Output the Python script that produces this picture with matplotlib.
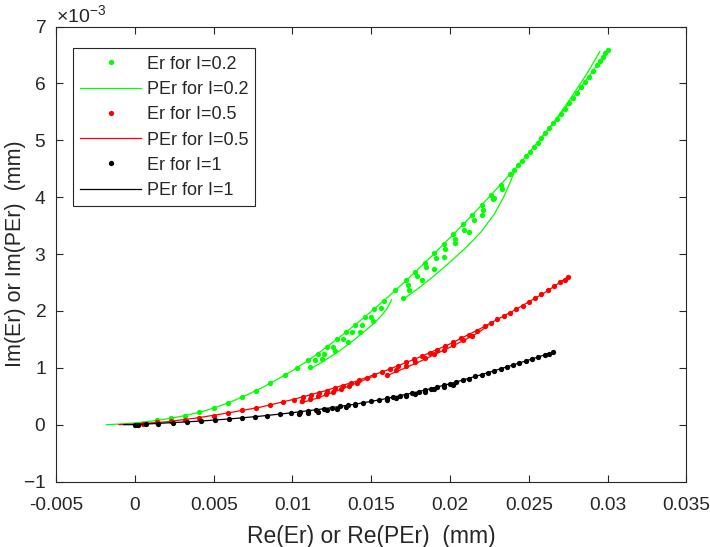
import matplotlib

matplotlib.use("Agg")
import matplotlib.pyplot as plt
from matplotlib.ticker import FuncFormatter, MultipleLocator, ScalarFormatter
import numpy as np

# --- data (x in mm, y in 1e-3 mm) -------------------------------------------
# I = 0.2 (green)
g_dot_x = [0.0005, 0.0014, 0.0023, 0.0032, 0.0041, 0.0050, 0.0059, 0.0068, 0.0077, 0.0086,
           0.0095, 0.0103, 0.0110, 0.0116, 0.0122, 0.0128, 0.0134, 0.0140, 0.0146, 0.0152,
           0.0158, 0.0165, 0.0172, 0.0178, 0.0184, 0.0190, 0.0196, 0.0202, 0.0208, 0.0214,
           0.0220, 0.0226, 0.0232, 0.0238, 0.0243, 0.0248, 0.0253, 0.0258, 0.0263, 0.0268,
           0.0273, 0.0278, 0.0283, 0.0288, 0.0293, 0.0297, 0.0300]
g_dot_y = [0.02, 0.075, 0.115, 0.16, 0.215, 0.29, 0.38, 0.49, 0.60, 0.73,
           0.87, 1.00, 1.13, 1.25, 1.37, 1.50, 1.63, 1.76, 1.90, 2.04,
           2.18, 2.36, 2.54, 2.69, 2.85, 3.01, 3.18, 3.35, 3.52, 3.69,
           3.86, 4.04, 4.22, 4.40, 4.56, 4.72, 4.88, 5.04, 5.21, 5.38,
           5.55, 5.74, 5.93, 6.12, 6.32, 6.47, 6.59]
g_dot2_x = [0.0114, 0.0120, 0.0126, 0.0132, 0.0138, 0.0144, 0.0150, 0.0156,
            0.0173, 0.0179, 0.0185, 0.0191, 0.0197, 0.0203, 0.0209, 0.0215, 0.0221, 0.0227, 0.0233]
g_dot2_y = [1.13, 1.25, 1.37, 1.50, 1.63, 1.76, 1.90, 2.05,
            2.46, 2.61, 2.77, 2.93, 3.09, 3.26, 3.43, 3.60, 3.78, 3.96, 4.14]
g_dot3_x = [0.0111, 0.0119, 0.0127, 0.0135, 0.0143, 0.0151,
            0.0170, 0.0174, 0.0182, 0.0190, 0.0196, 0.0203, 0.0212, 0.0220, 0.0228]
g_dot3_y = [1.02, 1.15, 1.30, 1.46, 1.63, 1.82,
            2.22, 2.36, 2.54, 2.73, 2.94, 3.20, 3.39, 3.69, 3.98]
g_dot4_x = [0.02405, 0.02455, 0.02505, 0.02555, 0.02605, 0.02655, 0.02705,
            0.02755, 0.02805, 0.02855, 0.02905, 0.02950, 0.02985]
g_dot4_y = [4.48, 4.64, 4.80, 4.96, 5.12, 5.30, 5.46,
            5.65, 5.84, 6.02, 6.22, 6.40, 6.54]
g_line_x = [-0.0018, -0.001, 0.0, 0.001, 0.002, 0.003, 0.004, 0.005, 0.006, 0.007, 0.008,
            0.009, 0.010, 0.011, 0.012, 0.013, 0.014, 0.015, 0.016, 0.017, 0.018, 0.019,
            0.020, 0.021, 0.022, 0.023, 0.024, 0.025, 0.026, 0.027, 0.028, 0.029, 0.030]
g_line_y = [0.0, 0.01, 0.03, 0.06, 0.10, 0.15, 0.21, 0.29, 0.39, 0.51, 0.64,
            0.79, 0.95, 1.13, 1.33, 1.54, 1.76, 1.99, 2.23, 2.48, 2.74, 3.01,
            3.29, 3.57, 3.86, 4.16, 4.46, 4.78, 5.11, 5.45, 5.82, 6.20, 6.59]
g_lineA_x = [0.0112, 0.0120, 0.0130, 0.0140, 0.0150, 0.0156, 0.0160, 0.0163]
g_lineA_y = [0.99, 1.12, 1.30, 1.51, 1.74, 1.90, 2.04, 2.20]
g_lineB_x = [0.0170, 0.0180, 0.0190, 0.0200, 0.0210, 0.0220, 0.0228, 0.0234, 0.0238, 0.0241]
g_lineB_y = [2.20, 2.40, 2.62, 2.86, 3.11, 3.40, 3.70, 4.00, 4.25, 4.46]
g_lineC_x = [0.0258, 0.0268, 0.0278, 0.0287, 0.0295]
g_lineC_y = [5.05, 5.40, 5.80, 6.18, 6.56]

# I = 0.5 (red)
r_dot_x = [0.0005, 0.0014, 0.0023, 0.0032, 0.0041, 0.0050, 0.0059, 0.0068, 0.0077, 0.0086,
           0.0094, 0.0101, 0.0107, 0.0112, 0.0117, 0.0122, 0.0127, 0.0132, 0.0137, 0.0142,
           0.0147, 0.0152, 0.0157, 0.0162, 0.0167, 0.0172, 0.0177, 0.0182, 0.0187, 0.0192,
           0.0197, 0.0202, 0.0207, 0.0212, 0.0217, 0.0222, 0.0226, 0.0230, 0.0234, 0.0238,
           0.0242, 0.0246, 0.0250, 0.0254, 0.0258, 0.0262, 0.0266, 0.0270, 0.0273, 0.0275]
r_dot_y = [0.02, 0.04, 0.06, 0.09, 0.12, 0.16, 0.20, 0.25, 0.29, 0.34,
           0.40, 0.44, 0.48, 0.52, 0.55, 0.60, 0.64, 0.68, 0.73, 0.78,
           0.82, 0.87, 0.92, 0.98, 1.04, 1.10, 1.15, 1.20, 1.26, 1.32,
           1.38, 1.45, 1.52, 1.58, 1.65, 1.73, 1.79, 1.85, 1.91, 1.97,
           2.03, 2.09, 2.16, 2.22, 2.29, 2.36, 2.43, 2.50, 2.55, 2.60]
r_dot2_x = [0.0106, 0.0111, 0.0116, 0.0121, 0.0126, 0.0131, 0.0136, 0.0141,
            0.0160, 0.0166, 0.0172, 0.0178, 0.0184, 0.0190, 0.0196, 0.0202, 0.0208, 0.0214]
r_dot2_y = [0.41, 0.45, 0.50, 0.54, 0.58, 0.63, 0.68, 0.73,
            0.88, 0.96, 1.03, 1.10, 1.17, 1.25, 1.32, 1.40, 1.48, 1.56]
r_line_x = [-0.0010, 0.0, 0.002, 0.004, 0.006, 0.008, 0.010, 0.012, 0.014, 0.016,
            0.018, 0.020, 0.022, 0.024, 0.026, 0.0275]
r_line_y = [0.0, 0.01, 0.05, 0.12, 0.21, 0.31, 0.44, 0.59, 0.76, 0.96,
            1.18, 1.42, 1.70, 2.00, 2.32, 2.60]
r_lineA_x = [0.0105, 0.0115, 0.0125, 0.0135, 0.0145, 0.0153]
r_lineA_y = [0.38, 0.46, 0.56, 0.67, 0.78, 0.87]
r_lineB_x = [0.0159, 0.0170, 0.0180, 0.0190, 0.0200, 0.0210, 0.0218, 0.0224]
r_lineB_y = [0.85, 0.98, 1.10, 1.23, 1.36, 1.50, 1.62, 1.74]

# I = 1 (black)
k_dot_x = [0.0000, 0.0002, 0.0007, 0.0015, 0.0024, 0.0033, 0.0042, 0.0051, 0.0060, 0.0068,
           0.0076, 0.0084, 0.0092, 0.0099, 0.0105, 0.0110, 0.0115, 0.0120, 0.0125, 0.0130,
           0.0135, 0.0140, 0.0145, 0.0150, 0.0155, 0.0160, 0.0164, 0.0168, 0.0172, 0.0176,
           0.0180, 0.0184, 0.0188, 0.0192, 0.0196, 0.0200, 0.0204, 0.0208, 0.0212, 0.0216,
           0.0220, 0.0224, 0.0228, 0.0232, 0.0236, 0.0240, 0.0244, 0.0248, 0.0252, 0.0256,
           0.0260, 0.0263, 0.0265]
k_dot_y = [0.0, 0.0, 0.01, 0.02, 0.035, 0.05, 0.065, 0.08, 0.10, 0.12,
           0.14, 0.16, 0.18, 0.21, 0.22, 0.24, 0.26, 0.28, 0.30, 0.32,
           0.34, 0.36, 0.385, 0.41, 0.435, 0.46, 0.48, 0.51, 0.53, 0.555,
           0.58, 0.61, 0.635, 0.66, 0.69, 0.72, 0.75, 0.78, 0.81, 0.85,
           0.88, 0.91, 0.95, 0.98, 1.02, 1.05, 1.09, 1.12, 1.16, 1.19,
           1.23, 1.25, 1.27]
k_dot2_x = [0.0104, 0.0110, 0.0116, 0.0122, 0.0128, 0.0134, 0.0140,
            0.0160, 0.0166, 0.0172, 0.0178, 0.0184, 0.0190, 0.0196, 0.0202]
k_dot2_y = [0.19, 0.21, 0.23, 0.26, 0.28, 0.31, 0.34,
            0.43, 0.47, 0.51, 0.54, 0.58, 0.62, 0.66, 0.70]
k_line_x = [-0.0007, 0.0, 0.002, 0.004, 0.006, 0.008, 0.010, 0.012, 0.014, 0.016,
            0.018, 0.020, 0.022, 0.024, 0.0265]
k_line_y = [0.0, 0.0, 0.03, 0.06, 0.10, 0.15, 0.21, 0.28, 0.36, 0.46,
            0.58, 0.72, 0.88, 1.05, 1.27]

series = [
    ("0.2", (0, 1, 0), (g_dot_x, g_dot_y),
     [(g_dot2_x, g_dot2_y), (g_dot3_x, g_dot3_y), (g_dot4_x, g_dot4_y)],
     (g_line_x, g_line_y), [(g_lineA_x, g_lineA_y), (g_lineB_x, g_lineB_y), (g_lineC_x, g_lineC_y)]),
    ("0.5", (1, 0, 0), (r_dot_x, r_dot_y), [(r_dot2_x, r_dot2_y)],
     (r_line_x, r_line_y), [(r_lineA_x, r_lineA_y), (r_lineB_x, r_lineB_y)]),
    ("1", (0, 0, 0), (k_dot_x, k_dot_y), [(k_dot2_x, k_dot2_y)],
     (k_line_x, k_line_y), []),
]

plt.rcParams["font.family"] = ["Liberation Sans", "DejaVu Sans"]
plt.rcParams["axes.unicode_minus"] = False
plt.rcParams["mathtext.fontset"] = "custom"
plt.rcParams["mathtext.rm"] = "Liberation Sans"
plt.rcParams["mathtext.it"] = "Liberation Sans"

AX_COL = "#262626"
fig = plt.figure(figsize=(7.1, 5.47), dpi=100)
ax = fig.add_axes([0.0789, 0.1197, 0.888, 0.8318])

MS = 3.8
for lvl, col, dots, extra_dots, line, extra_lines in series:
    ax.plot(np.array(dots[0]), np.array(dots[1]) * 1e-3, ls="none", marker="o", ms=MS,
            mew=0, color=col, label=f"Er for I={lvl}")
    ax.plot(np.array(line[0]), np.array(line[1]) * 1e-3, color=col, lw=0.9,
            label=f"PEr for I={lvl}")
    for ex, ey in extra_dots:
        ax.plot(np.array(ex), np.array(ey) * 1e-3, ls="none", marker="o", ms=MS,
                mew=0, color=col)
    for lx, ly in extra_lines:
        ax.plot(np.array(lx), np.array(ly) * 1e-3, color=col, lw=0.9)

ax.set_xlim(-0.005, 0.035)
ax.set_ylim(-1e-3, 7e-3)
ax.xaxis.set_major_locator(MultipleLocator(0.005))
ax.yaxis.set_major_locator(MultipleLocator(1e-3))


def xfmt(v, _):
    if abs(v) < 1e-12:
        return "0"
    return f"{v:.3f}".rstrip("0").rstrip(".")


ax.xaxis.set_major_formatter(FuncFormatter(xfmt))
yf = ScalarFormatter(useMathText=True)
yf.set_powerlimits((-3, -3))
ax.yaxis.set_major_formatter(yf)
ax.yaxis.get_offset_text().set_fontsize(14)
ax.yaxis.get_offset_text().set_color(AX_COL)

ax.tick_params(axis="both", direction="in", top=True, right=True, length=5,
               width=0.8, color=AX_COL, labelcolor=AX_COL, labelsize=13.8)
ax.tick_params(axis="x", pad=11)
ax.tick_params(axis="y", pad=7)
for s in ax.spines.values():
    s.set_color(AX_COL)
    s.set_linewidth(0.8)

ax.set_xlabel("Re(Er) or Re(PEr)  (mm)", fontsize=16.5, color=AX_COL, labelpad=8)
ax.set_ylabel("Im(Er) or Im(PEr)  (mm)", fontsize=15.5, color=AX_COL)
ax.yaxis.set_label_coords(-0.047, 0.5)

leg = ax.legend(loc="upper left", bbox_to_anchor=(0.0265, 0.952), borderaxespad=0,
                fontsize=13, numpoints=1, handlelength=3.4, handletextpad=0.3,
                labelspacing=0.46, borderpad=0.4, fancybox=False, framealpha=1,
                edgecolor=AX_COL)
leg.get_frame().set_linewidth(0.8)
for t in leg.get_texts():
    t.set_color(AX_COL)

fig.savefig("out.png", dpi=100)
